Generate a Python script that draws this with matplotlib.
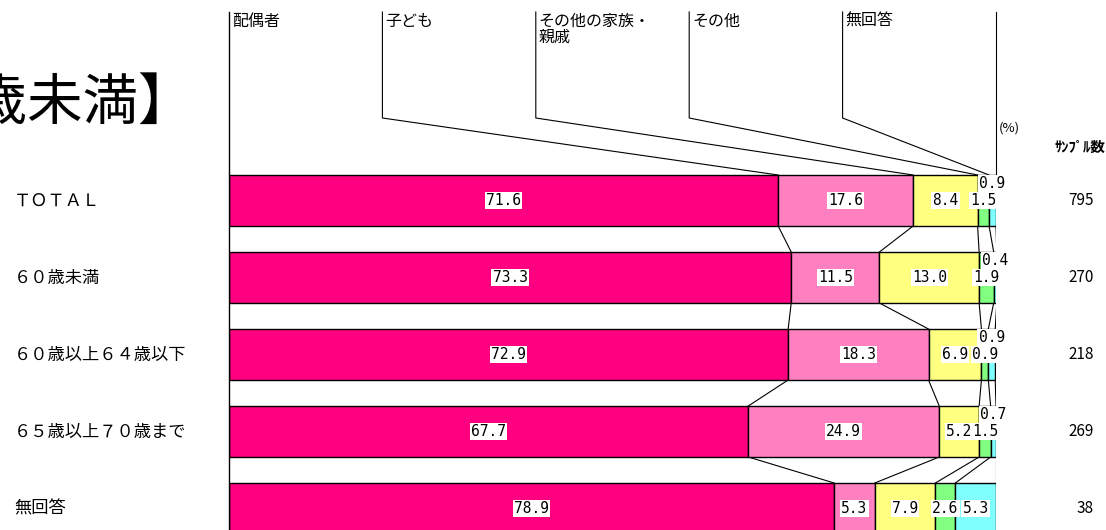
import matplotlib
matplotlib.use('Agg')
import matplotlib.pyplot as plt
from matplotlib.transforms import blended_transform_factory
import numpy as np

plt.rcParams['font.family'] = ['Noto Sans CJK JP', 'DejaVu Sans']

# ---------------- data ----------------
categories = ['ＴＯＴＡＬ', '６０歳未満', '６０歳以上６４歳以下', '６５歳以上７０歳まで', '無回答']
series_names = ['配偶者', '子ども', 'その他の家族・\n親戚', 'その他', '無回答']
spouse = [71.6, 73.3, 72.9, 67.7, 78.9]
children = [17.6, 11.5, 18.3, 24.9, 5.3]
family = [8.4, 13.0, 6.9, 5.2, 7.9]
other = [1.5, 1.9, 0.9, 1.5, 2.6]
no_answer = [0.9, 0.4, 0.9, 0.7, 5.3]
sample_sizes = [795, 270, 218, 269, 38]
title = '【６０歳未満】'
colors = ['#FF0080', '#FF80C0', '#FFFF80', '#80FF80', '#80FFFF']

# ---------------- layout ----------------
W, H = 1106, 530
fig = plt.figure(figsize=(W / 100, H / 100), dpi=100)
X0, X1 = 229, 996
ROW0, STEP = 200.5, 77.0
ax = fig.add_axes([X0 / W, 0, (X1 - X0) / W, 1])
ax.set_xlim(0, 100)


def prow(p):
    return (p - ROW0) / STEP


ax.set_ylim(prow(H), prow(0))
ax.axis('off')
bh = 51 / STEP

data = np.array([spouse, children, family, other, no_answer]).T  # rows x series
lefts = np.hstack([np.zeros((len(categories), 1)), np.cumsum(data, axis=1)])
ys = np.arange(len(categories))

# bars
for s in range(data.shape[1]):
    ax.barh(ys, data[:, s], left=lefts[:, s], height=bh, color=colors[s],
            edgecolor='black', linewidth=1.0, zorder=2)

# connectors between bars
for i in range(len(categories) - 1):
    for k in range(1, data.shape[1] + 1):
        ax.plot([lefts[i, k], lefts[i + 1, k]], [i + bh / 2, i + 1 - bh / 2],
                color='black', lw=0.8, zorder=1)

# left axis line
ax.plot([0, 0], [prow(12), prow(H)], color='black', lw=1.0, zorder=3, clip_on=False)

# legend header lines
ytop, ykink = prow(12), prow(118)
for k in range(1, data.shape[1] + 1):
    xk = 100 * k / data.shape[1]
    if k < data.shape[1]:
        ax.plot([xk, xk, lefts[0, k]], [ytop, ykink, -bh / 2], color='black', lw=0.8,
                clip_on=False)
    else:
        ax.plot([xk, xk], [ytop, -bh / 2], color='black', lw=0.8, clip_on=False)
for k, name in enumerate(series_names):
    xk = 100 * k / data.shape[1]
    ax.annotate(name, xy=(xk, prow(13)), xytext=(2, 0), textcoords='offset points',
                ha='left', va='top', fontsize=11.5, linespacing=0.9)

# value labels
for i in range(len(categories)):
    for s in range(data.shape[1]):
        v = data[i, s]
        cx = lefts[i, s] + v / 2
        cy = i
        if s == data.shape[1] - 1 and v < 1.0:
            cy = i - 17 / STEP
        ax.text(cx, cy, f'{v:.1f}', ha='center', va='center',
                fontfamily='DejaVu Sans Mono', fontsize=10.5, zorder=5,
                bbox=dict(facecolor='white', edgecolor='none', pad=0.8))

# row labels and sample sizes
tr = blended_transform_factory(fig.transFigure, ax.transData)
for i, cat in enumerate(categories):
    ax.text(14 / W, i, cat, transform=tr, ha='left', va='center', fontsize=12.4)
    ax.text(1094 / W, i, str(sample_sizes[i]), transform=tr, ha='right', va='center',
            fontsize=11)

fig.text(194 / W, 1 - 104 / H, title, ha='right', va='center', fontsize=40)
fig.text(999 / W, 1 - 128 / H, '(%)', ha='left', va='center', fontsize=9.5)
fig.text(1105 / W, 1 - 147 / H, 'ｻﾝﾌﾟﾙ数', ha='right', va='center', fontsize=10.5,
         fontweight='bold')

fig.savefig('out.png', dpi=100)
